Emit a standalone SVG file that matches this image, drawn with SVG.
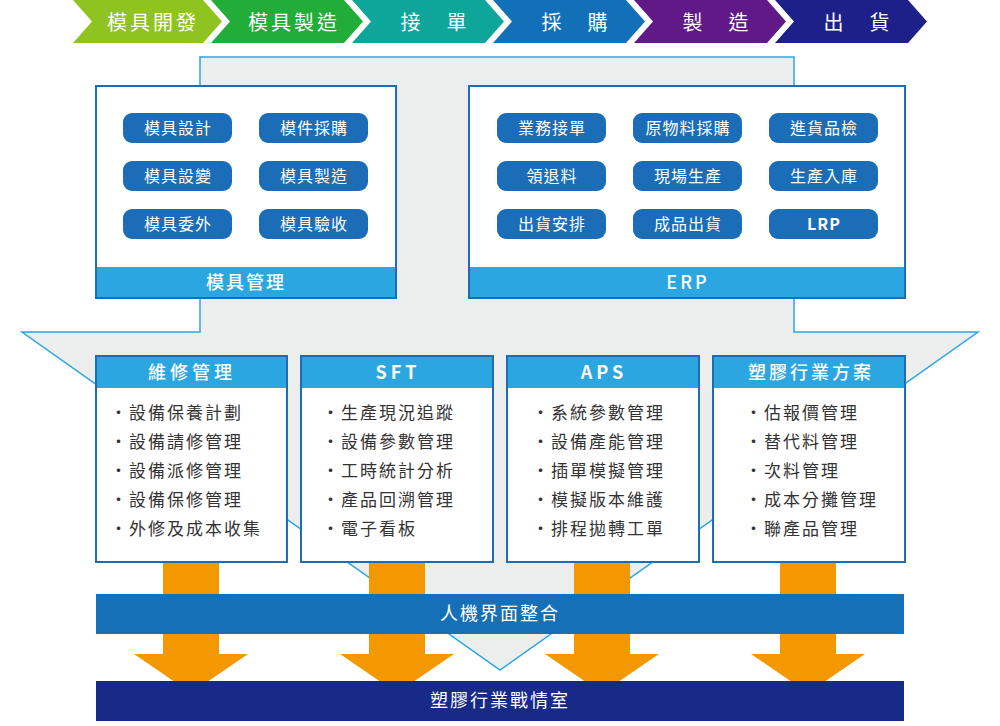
<svg xmlns="http://www.w3.org/2000/svg" width="1000" height="726" viewBox="0 0 1000 726">
<style>
text{font-family:"Noto Sans CJK TC","Noto Sans",sans-serif}
.chev{fill:#fff;font-size:20px;letter-spacing:3px;text-anchor:middle}
.pill{fill:#1a6db6}
.pt{fill:#fff;font-size:16px;letter-spacing:1px;text-anchor:middle}
.box{fill:#fff;stroke:#1a6db6;stroke-width:2}
.band{fill:#2ca6e0}
.bt{fill:#fff;font-size:18px;letter-spacing:2px;text-anchor:middle;font-weight:500}
.li{fill:#333;font-size:17px;letter-spacing:2px}
.arr{fill:#f39800}
</style>
<g id="process">
<polygon points="73,0 203,0 222,21.5 203,43 73,43 92,21.5" fill="#8fc31f"/>
<polygon points="211,0 344,0 363,21.5 344,43 211,43 230,21.5" fill="#22ac38"/>
<polygon points="352,0 485,0 504,21.5 485,43 352,43 371,21.5" fill="#0ea59a"/>
<polygon points="493,0 626,0 645,21.5 626,43 493,43 512,21.5" fill="#1170b8"/>
<polygon points="634,0 767,0 786,21.5 767,43 634,43 653,21.5" fill="#601986"/>
<polygon points="775,0 908,0 927,21.5 908,43 775,43 794,21.5" fill="#1d2088"/>
<text class="chev" x="153" y="29.5">模具開發</text>
<text class="chev" x="294" y="29.5">模具製造</text>
<text class="chev" x="435" y="29.5">接　單</text>
<text class="chev" x="576" y="29.5">採　購</text>
<text class="chev" x="717" y="29.5">製　造</text>
<text class="chev" x="858" y="29.5">出　貨</text>
</g>
<g id="background">
<polygon points="200,57 794,57 794,332 978,332 500,670 22,332 200,332" fill="#eceeee" stroke="#2ca6e0" stroke-width="1.5"/>
</g>
<g id="mold">
<rect class="box" x="96" y="86" width="300" height="212"/>
<rect class="band" x="97" y="267" width="298" height="30"/>
<text class="bt" x="246" y="289">模具管理</text>
<rect class="pill" x="123" y="113" width="109" height="30" rx="9"/>
<rect class="pill" x="259" y="113" width="109" height="30" rx="9"/>
<rect class="pill" x="123" y="161" width="109" height="30" rx="9"/>
<rect class="pill" x="259" y="161" width="109" height="30" rx="9"/>
<rect class="pill" x="123" y="209" width="109" height="30" rx="9"/>
<rect class="pill" x="259" y="209" width="109" height="30" rx="9"/>
<text class="pt" x="178" y="134">模具設計</text>
<text class="pt" x="314" y="134">模件採購</text>
<text class="pt" x="178" y="182">模具設變</text>
<text class="pt" x="314" y="182">模具製造</text>
<text class="pt" x="178" y="230">模具委外</text>
<text class="pt" x="314" y="230">模具驗收</text>
</g>
<g id="erp">
<rect class="box" x="469" y="86" width="436" height="212"/>
<rect class="band" x="470" y="267" width="434" height="30"/>
<text class="bt" x="688" y="289" style="letter-spacing:3px">ERP</text>
<rect class="pill" x="497" y="113" width="109" height="30" rx="9"/>
<rect class="pill" x="633" y="113" width="109" height="30" rx="9"/>
<rect class="pill" x="769" y="113" width="109" height="30" rx="9"/>
<rect class="pill" x="497" y="161" width="109" height="30" rx="9"/>
<rect class="pill" x="633" y="161" width="109" height="30" rx="9"/>
<rect class="pill" x="769" y="161" width="109" height="30" rx="9"/>
<rect class="pill" x="497" y="209" width="109" height="30" rx="9"/>
<rect class="pill" x="633" y="209" width="109" height="30" rx="9"/>
<rect class="pill" x="769" y="209" width="109" height="30" rx="9"/>
<text class="pt" x="552" y="134">業務接單</text>
<text class="pt" x="688" y="134">原物料採購</text>
<text class="pt" x="824" y="134">進貨品檢</text>
<text class="pt" x="552" y="182">領退料</text>
<text class="pt" x="688" y="182">現場生產</text>
<text class="pt" x="824" y="182">生產入庫</text>
<text class="pt" x="552" y="230">出貨安排</text>
<text class="pt" x="688" y="230">成品出貨</text>
<text class="pt" x="824" y="230" style="font-weight:bold">LRP</text>
</g>
<g id="connectors">
<polygon class="arr" points="163,562 219,562 219,654 248,654 191,693 134,654 163,654"/>
<polygon class="arr" points="369,562 425,562 425,654 454,654 397,693 340,654 369,654"/>
<polygon class="arr" points="574,562 630,562 630,654 659,654 602,693 545,654 574,654"/>
<polygon class="arr" points="780,562 836,562 836,654 865,654 808,693 751,654 780,654"/>
</g>
<g id="maint">
<rect class="box" x="96" y="356" width="191" height="206"/>
<rect class="band" x="97" y="357" width="189" height="31"/>
<text class="bt" x="192" y="379" style="letter-spacing:4px">維修管理</text>
<text class="li" x="110" y="419">・設備保養計劃</text>
<text class="li" x="110" y="448">・設備請修管理</text>
<text class="li" x="110" y="477">・設備派修管理</text>
<text class="li" x="110" y="506">・設備保修管理</text>
<text class="li" x="110" y="535">・外修及成本收集</text>
</g>
<g id="sft">
<rect class="box" x="301" y="356" width="192" height="206"/>
<rect class="band" x="302" y="357" width="190" height="31"/>
<text class="bt" x="398" y="379" style="letter-spacing:4px;font-weight:bold">SFT</text>
<text class="li" x="322" y="419">・生產現況追蹤</text>
<text class="li" x="322" y="448">・設備參數管理</text>
<text class="li" x="322" y="477">・工時統計分析</text>
<text class="li" x="322" y="506">・產品回溯管理</text>
<text class="li" x="322" y="535">・電子看板</text>
</g>
<g id="aps">
<rect class="box" x="507" y="356" width="192" height="206"/>
<rect class="band" x="508" y="357" width="190" height="31"/>
<text class="bt" x="604" y="379" style="letter-spacing:4px;font-weight:bold">APS</text>
<text class="li" x="532" y="419">・系統參數管理</text>
<text class="li" x="532" y="448">・設備產能管理</text>
<text class="li" x="532" y="477">・插單模擬管理</text>
<text class="li" x="532" y="506">・模擬版本維護</text>
<text class="li" x="532" y="535">・排程拋轉工單</text>
</g>
<g id="plastic">
<rect class="box" x="713" y="356" width="192" height="206"/>
<rect class="band" x="714" y="357" width="190" height="31"/>
<text class="bt" x="811" y="379" style="letter-spacing:3px">塑膠行業方案</text>
<text class="li" x="745" y="419">・估報價管理</text>
<text class="li" x="745" y="448">・替代料管理</text>
<text class="li" x="745" y="477">・次料管理</text>
<text class="li" x="745" y="506">・成本分攤管理</text>
<text class="li" x="745" y="535">・聯產品管理</text>
</g>
<g id="hmi">
<rect x="96" y="594" width="808" height="40" fill="#1570b8"/>
<text x="500" y="620" fill="#fff" font-size="18" text-anchor="middle" letter-spacing="2">人機界面整合</text>
</g>
<g id="warroom">
<rect x="96" y="681" width="808" height="40" fill="#172a88"/>
<text x="500" y="707" fill="#fff" font-size="18" text-anchor="middle" letter-spacing="2">塑膠行業戰情室</text>
</g>
</svg>
